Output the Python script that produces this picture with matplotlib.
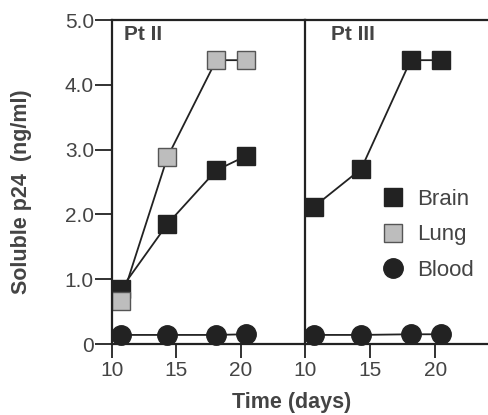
import matplotlib.pyplot as plt
from matplotlib.lines import Line2D

plt.rcParams['font.family'] = ['Liberation Sans', 'DejaVu Sans']

# data
days = [10.7, 14.3, 18.1, 20.4]
pt2_brain = [0.85, 1.85, 2.68, 2.9]
pt2_lung = [0.66, 2.88, 4.38, 4.38]
pt2_blood = [0.14, 0.14, 0.14, 0.15]
pt3_brain = [2.12, 2.7, 4.38, 4.38]
pt3_blood = [0.14, 0.14, 0.15, 0.15]
xticks = [10, 15, 20]
yticks = [0, 1, 2, 3, 4, 5]
ytick_labels = ['0', '1.0', '2.0', '3.0', '4.0', '5.0']

ink = '#222222'
txt = '#444444'
lung_fc = '#bdbdbd'

fig = plt.figure(figsize=(4.89, 4.15), dpi=100)
ax1 = fig.add_axes([112 / 489, 71 / 415, 193 / 489, 324 / 415])
ax2 = fig.add_axes([305 / 489, 71 / 415, 184 / 489, 324 / 415])

sq = dict(marker='s', markersize=13, markeredgewidth=1.0, color=ink, lw=1.3, clip_on=False)
dot = dict(marker='o', markersize=14, color=ink, lw=1.3, clip_on=False)

ax1.plot(days, pt2_brain, markerfacecolor=ink, markeredgecolor=ink, **sq)
ax1.plot(days, pt2_lung, markerfacecolor=lung_fc, markeredgecolor='#555555', **sq)
ax1.plot(days, pt2_blood, **dot)

ax2.plot(days, pt3_brain, markerfacecolor=ink, markeredgecolor=ink, **sq)
ax2.plot(days, pt3_blood, **dot)

for ax, xmax in ((ax1, 25.0), (ax2, 24.1)):
    ax.set_xlim(10, xmax)
    ax.set_ylim(0, 5)
    ax.set_xticks(xticks)
    ax.tick_params(axis='x', direction='out', length=10, width=1.3, color=ink,
                   labelsize=15, labelcolor=txt, pad=2)
    for s in ax.spines.values():
        s.set_linewidth(1.6)
        s.set_color(ink)
    ax.spines['right'].set_visible(False)

ax1.set_yticks(yticks)
ax1.set_yticklabels(ytick_labels)
ax1.tick_params(axis='y', direction='out', length=12, width=1.3, color=ink,
                labelsize=15, labelcolor=txt, pad=1)
ax2.set_yticks([])

ax1.text(0.06, 0.955, 'Pt II', transform=ax1.transAxes, fontsize=15,
         fontweight='bold', color=txt, va='center', ha='left')
ax2.text(0.14, 0.955, 'Pt III', transform=ax2.transAxes, fontsize=15,
         fontweight='bold', color=txt, va='center', ha='left')

ax1.set_ylabel('Soluble p24  (ng/ml)', fontsize=15.5, fontweight='bold', color=txt)
ax1.yaxis.set_label_coords(-0.415, 0.47)
fig.text(0.596, 0.03, 'Time (days)', fontsize=15.5, fontweight='bold', color=txt,
         ha='center', va='center')

handles = [
    Line2D([], [], ls='none', marker='s', markersize=13, markerfacecolor=ink, markeredgecolor=ink),
    Line2D([], [], ls='none', marker='s', markersize=13, markerfacecolor=lung_fc, markeredgecolor='#555555'),
    Line2D([], [], ls='none', marker='o', markersize=14, markerfacecolor=ink, markeredgecolor=ink),
]
ax2.legend(handles, ['Brain', 'Lung', 'Blood'], loc='upper left', bbox_to_anchor=(0.36, 0.505),
           frameon=False, fontsize=16, labelcolor=txt, handletextpad=0.45,
           labelspacing=0.64, handlelength=1.2, borderaxespad=0)

fig.savefig('out.png', dpi=100)
